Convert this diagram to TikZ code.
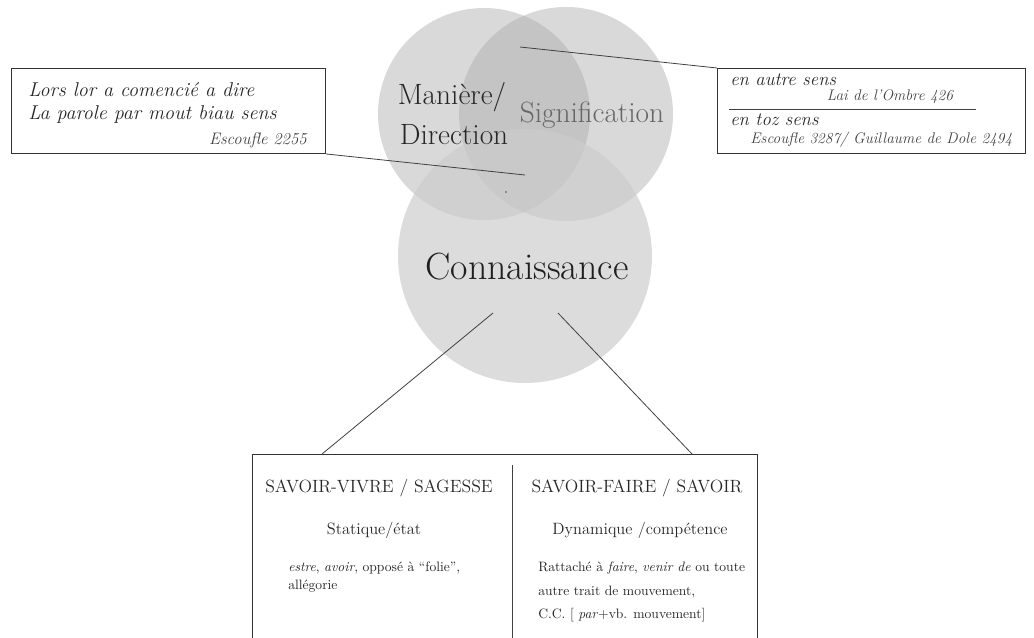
\documentclass[tikz,border=0pt]{standalone}
\usepackage{tikz}
\usetikzlibrary{positioning}
\tikzset{font=\small}
\tikzset{venn/.style={fill=black!33, fill opacity=0.45}}
\tikzset{vennlow/.style={fill=black!20, fill opacity=0.68}}
\tikzset{link/.style={draw=black!75, line width=0.6pt}}
\tikzset{frame/.style={draw=black!80, line width=0.7pt}}
\tikzset{verse/.style={font=\fontsize{15}{17}\selectfont\itshape, text=black!85}}
\tikzset{cite/.style={font=\fontsize{11.5}{13}\selectfont\itshape, text=black!75}}
\tikzset{head/.style={font=\fontsize{13.3}{15}\selectfont, text=black!85}}
\tikzset{sub/.style={font=\fontsize{12.3}{14}\selectfont, text=black!85}}
\tikzset{body/.style={font=\fontsize{10.2}{12}\selectfont, text=black!85, align=left}}
\tikzset{big/.style={font=\fontsize{22}{26}\selectfont, text=black!85}}

\begin{document}
\begin{tikzpicture}[x=0.75pt, y=-0.75pt, inner sep=0pt]
  \useasboundingbox (0,0) rectangle (1034,638);

  % les trois cercles
  \coordinate (cMan) at (484,114);
  \coordinate (cSig) at (566,114);
  \coordinate (cCon) at (525,256);
  \fill[venn] (cMan) circle (106);
  \fill[venn] (cSig) circle (107);
  \fill[vennlow] (cCon) circle (127);
  \fill[black!70] (506,192) circle (0.8);

  \node[big] (man) at (452,97) {Mani\`ere/};
  \node[big] (dir) at (454,135) {Direction};
  \node[big, text=black!60] (sig) at (592,115) {Signification};
  \node[font=\fontsize{28.4}{32}\selectfont, text=black!88] (con) at (527,267) {Connaissance};

  % cadre de gauche
  \node[frame, anchor=north west, minimum width=235.5pt, minimum height=63.75pt]
    (lors) at (11,68) {};
  \node[verse, anchor=west] (v1) at (28,90) {Lors lor a comenci\'e a dire};
  \node[verse, anchor=west] (v2) at (28,115) {La parole par mout biau sens};
  \node[cite, font=\fontsize{12.5}{14}\selectfont\itshape, anchor=east] (esc) at (307,140) {Escoufle 2255};
  \coordinate (pMan) at (525,175);
  \draw[link] (lors.south east) -- (pMan);

  % cadre de droite
  \node[frame, anchor=north west, minimum width=231pt, minimum height=63.75pt]
    (sens) at (717,68) {};
  \node[verse, font=\fontsize{14}{16}\selectfont\itshape, anchor=west] (autre) at (730,80) {en autre sens};
  \node[cite] (ombre) at (890,97) {Lai de l'Ombre 426};
  \node[verse, font=\fontsize{14}{16}\selectfont\itshape, anchor=west] (toz) at (730,120) {en toz sens};
  \node[cite, anchor=west] (dole) at (750,140) {Escoufle 3287/ Guillaume de Dole 2494};
  \coordinate (rA) at (729,109);
  \coordinate (rB) at (976,109);
  \draw[link] (rA) -- (rB);
  \coordinate (pSig) at (520,47);
  \draw[link] (sens.north west) -- (pSig);

  % cadre du bas (ouvert en bas)
  \coordinate (bSW) at (252,640);
  \coordinate (bNW) at (252,454);
  \coordinate (bNE) at (757,454);
  \coordinate (bSE) at (757,640);
  \draw[frame] (bSW) -- (bNW) -- (bNE) -- (bSE);
  \coordinate (mTop) at (512,465);
  \coordinate (mBot) at (512,640);
  \draw[link] (mTop) -- (mBot);

  \coordinate (kL) at (493,313);
  \coordinate (kR) at (558,313);
  \coordinate (tL) at (322,454);
  \coordinate (tR) at (692,454);
  \draw[link] (kL) -- (tL);
  \draw[link] (kR) -- (tR);

  \node[head] (vivre) at (379,488) {SAVOIR-VIVRE / SAGESSE};
  \node[head] (faire) at (637,488) {SAVOIR-FAIRE / SAVOIR};
  \node[sub] (stat) at (374,530) {Statique/\'etat};
  \node[sub] (dyn) at (640,530) {Dynamique /comp\'etence};
  \node[body, anchor=north west] (estre) at (288,562)
    {\textit{estre}, \textit{avoir}, oppos\'e \`a ``folie'',\\[1.5pt] all\'egorie};
  \node[body, anchor=north west] (ratt) at (538,562)
    {Rattach\'e \`a \textit{faire}, \textit{venir de} ou toute\\[5.5pt]
     autre trait de mouvement,\\[5.5pt] C.C. [ \textit{par}+vb. mouvement]};
\end{tikzpicture}
\end{document}
